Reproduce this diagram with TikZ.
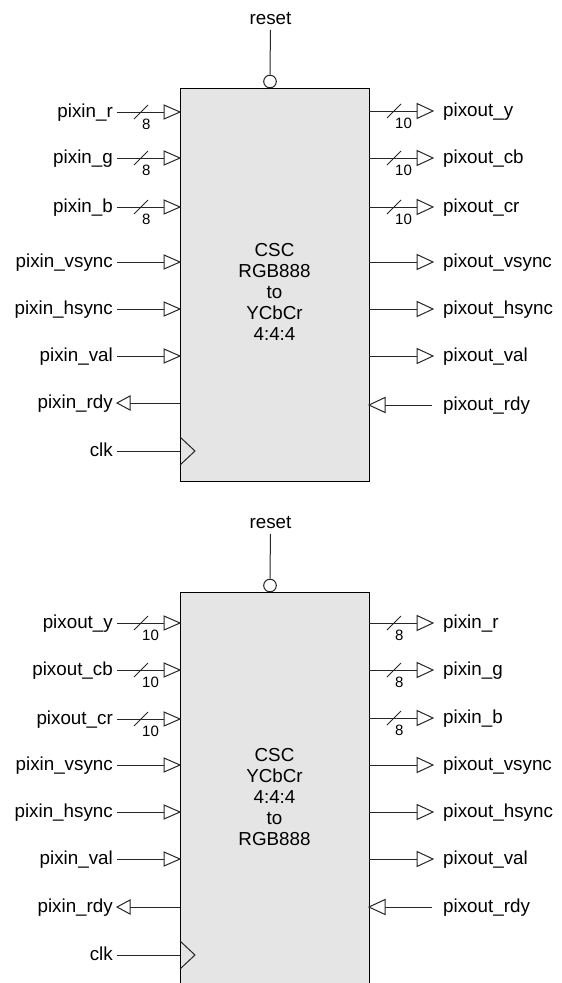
\documentclass[tikz,border=0pt]{standalone}
\usepackage{fontspec}
\setmainfont{Liberation Sans}
\newcommand\pinIn[3]{% name, y, label
  \node[sig, anchor=base east] (#1-l) at (113,#2+5.5) {#3};
  \coordinate (#1-w) at (117,#2);
  \coordinate (#1-p) at (180,#2);
  \coordinate (#1-t) at (164,#2);
  \draw[wire] (#1-w) -- (#1-t);
  \draw[pin] (#1-p) -- ++(-16,-7) -- ++(0,14) -- cycle;}
\newcommand\busL[3]{% name, y, width text
  \coordinate (#1-s) at (141,#2);
  \draw[wire] (#1-s) ++(-7,7) -- ++(14,-14);
  \node[buslbl, anchor=base west] (#1-n) at (142,#2+17.5) {#3};}
\newcommand\pinRdyL[3]{%
  \node[sig, anchor=base east] (#1-l) at (113,#2+5.5) {#3};
  \coordinate (#1-w) at (117,#2);
  \coordinate (#1-p) at (180,#2);
  \coordinate (#1-t) at (130,#2);
  \draw[wire] (#1-p) -- (#1-t);
  \draw[pin] (#1-w) -- ++(13,-7) -- ++(0,14) -- cycle;}
\newcommand\pinClk[3]{%
  \node[sig, anchor=base east] (#1-l) at (113,#2+5.5) {#3};
  \coordinate (#1-w) at (117,#2);
  \coordinate (#1-p) at (180,#2);
  \draw[wire] (#1-w) -- (#1-p);
  \draw[wire] (#1-p) ++(0,-14) -- ++(15,14) -- ++(-15,14);}
\newcommand\pinOut[3]{%
  \node[sig, anchor=base west] (#1-l) at (443,#2+5.5) {#3};
  \coordinate (#1-p) at (369,#2);
  \coordinate (#1-t) at (417,#2);
  \draw[wire] (#1-p) -- (#1-t);
  \draw[pin] (#1-t) -- ++(0,-7.5) -- ++(16,7.5) -- ++(-16,7.5) -- cycle;}
\newcommand\busR[3]{%
  \coordinate (#1-s) at (394,#2);
  \draw[wire] (#1-s) ++(-7,7) -- ++(14,-14);
  \node[buslbl, anchor=base west] (#1-n) at (395,#2+17.5) {#3};}
\newcommand\pinRdyR[3]{%
  \node[sig, anchor=base west] (#1-l) at (443,#2+5.5) {#3};
  \coordinate (#1-p) at (369,#2);
  \coordinate (#1-t) at (385,#2);
  \coordinate (#1-w) at (432,#2);
  \draw[wire] (#1-w) -- (#1-t);
  \draw[pin] (#1-p) -- ++(16,-7.5) -- ++(0,15) -- cycle;}
\begin{document}
\begin{tikzpicture}[x=1pt,y=-1pt,
  sig/.style={font=\fontsize{18.8}{21}\selectfont, inner sep=0pt},
  buslbl/.style={font=\fontsize{15}{17}\selectfont, inner sep=0pt},
  wire/.style={line width=1pt, draw=black!85},
  pin/.style={line width=1pt, draw=black!85, fill=white, line join=miter},
  blk/.style={draw=black, line width=1.1pt, fill=black!10, inner sep=0pt, anchor=north west},
  rstc/.style={circle, draw=black!85, line width=1pt, fill=white, minimum size=12.6pt, inner sep=0pt}]
\useasboundingbox (0,0) rectangle (562,983);
% ---------- top block ----------
\node[blk, minimum width=189pt, minimum height=393pt] (b1) at (180,88) {};
\node[sig, anchor=base] (r1) at (270.5,24.5) {reset};
\node[rstc] (c1) at (270,81.5) {};
\draw[wire, shorten <=5pt] (r1.south) -- (c1.north);
\foreach \t [count=\k] in {CSC,RGB888,to,YCbCr,4:4:4}
  \node[sig, anchor=base] (t1-\k) at (274.5,235.5+21*\k) {\t};
\pinIn{a1}{112}{pixin\_r}\busL{a1}{112}{8}
\pinIn{a2}{158}{pixin\_g}\busL{a2}{158}{8}
\pinIn{a3}{207}{pixin\_b}\busL{a3}{207}{8}
\pinIn{a4}{262}{pixin\_vsync}
\pinIn{a5}{309}{pixin\_hsync}
\pinIn{a6}{356}{pixin\_val}
\pinRdyL{a7}{403}{pixin\_rdy}
\pinClk{a8}{451}{clk}
\pinOut{o1}{111}{pixout\_y}\busR{o1}{111}{10}
\pinOut{o2}{158}{pixout\_cb}\busR{o2}{158}{10}
\pinOut{o3}{207}{pixout\_cr}\busR{o3}{207}{10}
\pinOut{o4}{262}{pixout\_vsync}
\pinOut{o5}{309}{pixout\_hsync}
\pinOut{o6}{356}{pixout\_val}
\pinRdyR{o7}{405}{pixout\_rdy}
% ---------- bottom block ----------
\node[blk, minimum width=189pt, minimum height=420pt] (b2) at (180,592) {};
\node[sig, anchor=base] (r2) at (270.5,528.5) {reset};
\node[rstc] (c2) at (270,585.5) {};
\draw[wire, shorten <=5pt] (r2.south) -- (c2.north);
\foreach \t [count=\k] in {CSC,YCbCr,4:4:4,to,RGB888}
  \node[sig, anchor=base] (t2-\k) at (274.5,740.5+21*\k) {\t};
\pinIn{d1}{623}{pixout\_y}\busL{d1}{623}{10}
\pinIn{d2}{670}{pixout\_cb}\busL{d2}{670}{10}
\pinIn{d3}{719}{pixout\_cr}\busL{d3}{719}{10}
\pinIn{d4}{765}{pixin\_vsync}
\pinIn{d5}{812}{pixin\_hsync}
\pinIn{d6}{859}{pixin\_val}
\pinRdyL{d7}{907}{pixin\_rdy}
\pinClk{d8}{955}{clk}
\pinOut{e1}{623}{pixin\_r}\busR{e1}{623}{8}
\pinOut{e2}{670}{pixin\_g}\busR{e2}{670}{8}
\pinOut{e3}{718}{pixin\_b}\busR{e3}{718}{8}
\pinOut{e4}{765}{pixout\_vsync}
\pinOut{e5}{812}{pixout\_hsync}
\pinOut{e6}{859}{pixout\_val}
\pinRdyR{e7}{907}{pixout\_rdy}
\end{tikzpicture}
\end{document}
